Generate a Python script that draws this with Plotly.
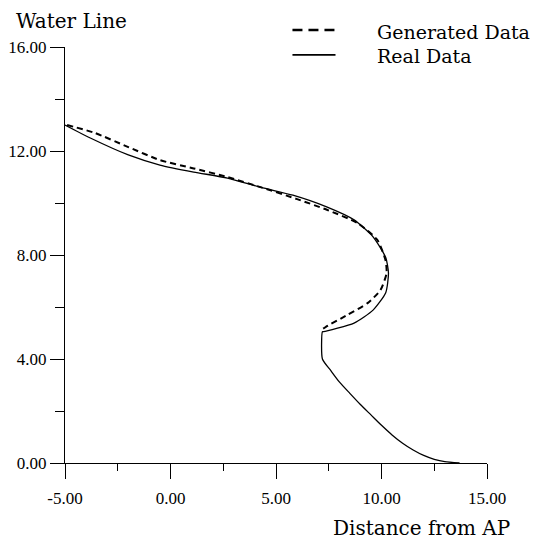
import plotly.graph_objects as go

# Real hull section (solid)
real_x = [-5.0, -3.8, -2.0, -0.5, 1.1, 2.7, 4.3, 5.8, 7.4, 8.7, 9.6, 10.2, 10.33,
          10.2, 9.6, 8.7, 7.25, 7.2, 7.2, 7.6, 8.0, 8.5, 9.0, 9.5, 10.0, 10.5,
          11.0, 11.5, 12.0, 12.5, 13.0, 13.7]
real_y = [13.0, 12.5, 11.85, 11.46, 11.19, 10.96, 10.6, 10.3, 9.85, 9.35, 8.7, 7.9, 7.3,
          6.55, 5.88, 5.38, 5.05, 5.05, 4.0, 3.55, 3.12, 2.68, 2.25, 1.85, 1.45, 1.08,
          0.76, 0.5, 0.29, 0.14, 0.05, 0.0]

# Generated section (dashed)
gen_x = [-4.9, -3.6, -2.0, -0.5, 1.1, 2.7, 4.3, 6.0, 7.44, 8.86, 9.8, 10.19, 10.24,
         9.95, 9.34, 8.39, 7.35, 7.2]
gen_y = [13.0, 12.7, 12.15, 11.65, 11.33, 11.0, 10.6, 10.15, 9.73, 9.23, 8.58, 7.8, 7.3,
         6.65, 6.15, 5.7, 5.23, 5.15]

x_ticks = [-5, 0, 5, 10, 15]
x_labels = ["-5.00", "0.00", "5.00", "10.00", "15.00"]
y_ticks = [0, 4, 8, 12, 16]
y_labels = ["0.00", "4.00", "8.00", "12.00", "16.00"]

serif = "Liberation Serif"
label_font = dict(family="DejaVu Serif", size=20, color="black")
legend_font = dict(family="DejaVu Serif", size=19, color="black")

fig = go.Figure()

fig.add_trace(go.Scatter(
    x=real_x, y=real_y, mode="lines", name="Real Data",
    line=dict(color="black", width=1.3, shape="spline", smoothing=0.6),
    showlegend=False
))
fig.add_trace(go.Scatter(
    x=gen_x, y=gen_y, mode="lines", name="Generated Data",
    line=dict(color="black", width=2, dash="6px,4px", shape="spline", smoothing=0.6),
    showlegend=False
))

axis_common = dict(
    showgrid=False, zeroline=False, showline=True, linecolor="black", linewidth=1.3,
    ticks="outside", tickcolor="black", tickwidth=1.3, automargin=False,
    tickfont=dict(family=serif, size=17, color="black"),
)

fig.update_xaxes(
    range=[-5, 15], tickvals=x_ticks, ticktext=x_labels, ticklen=15,
    ticklabelstandoff=4,
    minor=dict(dtick=2.5, tick0=-5, ticklen=7, tickcolor="black", tickwidth=1.3,
               ticks="outside"),
    **axis_common
)
fig.update_yaxes(
    range=[0, 16], tickvals=y_ticks, ticktext=y_labels, ticklen=14,
    minor=dict(dtick=2, tick0=0, ticklen=9, tickcolor="black", tickwidth=1.3,
               ticks="outside"),
    **axis_common
)

# hand-drawn style legend
fig.add_shape(type="line", xref="paper", yref="paper", x0=0.539, x1=0.641, y0=1.041, y1=1.041,
              line=dict(color="black", width=2.5, dash="10px,6px"))
fig.add_shape(type="line", xref="paper", yref="paper", x0=0.539, x1=0.641, y0=0.981, y1=0.981,
              line=dict(color="black", width=1.8))
fig.add_annotation(x=0.734, y=1.036, xref="paper", yref="paper", text="Generated Data",
                   showarrow=False, xanchor="left", yanchor="middle", font=legend_font)
fig.add_annotation(x=0.734, y=0.978, xref="paper", yref="paper", text="Real Data",
                   showarrow=False, xanchor="left", yanchor="middle", font=legend_font)

fig.add_annotation(x=-0.12, y=1.062, xref="paper", yref="paper", text="Water Line",
                   showarrow=False, xanchor="left", yanchor="middle", font=label_font)
fig.add_annotation(x=1.059, y=-0.156, xref="paper", yref="paper", text="Distance from AP",
                   showarrow=False, xanchor="right", yanchor="middle", font=label_font)

# page body has an 8px margin, so the figure is drawn 8px smaller
fig.update_layout(
    width=538, height=539,
    margin=dict(l=57, r=59, t=39, b=84),
    plot_bgcolor="white", paper_bgcolor="white",
    showlegend=False,
)

fig.write_html("out.html")
